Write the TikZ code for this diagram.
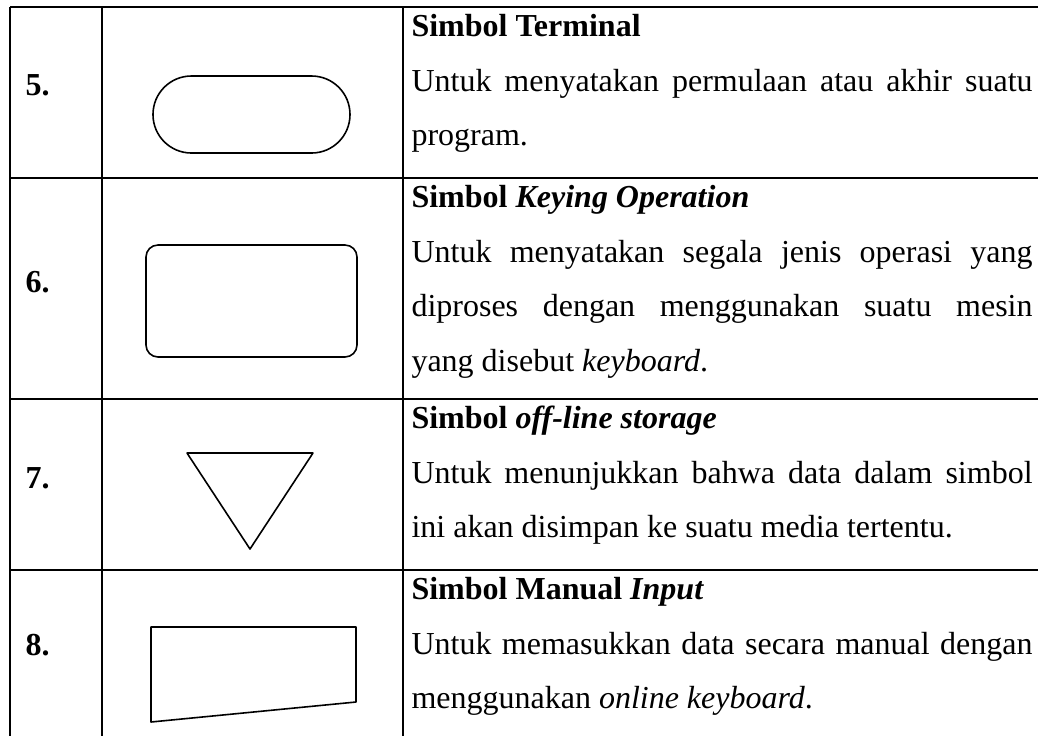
\documentclass[tikz,border=0pt]{standalone}
\usepackage{fontspec}
\setmainfont{Liberation Serif}
\usetikzlibrary{calc,positioning}

\newlength{\colw}
\setlength{\colw}{232.9pt}
\newcommand{\jline}[1]{\makebox[\colw][s]{#1}}

\begin{document}
\begin{tikzpicture}[
  x=0.375pt,y=-0.375pt,
  grid/.style={line width=0.7pt},
  symbol/.style={line width=0.6pt,line join=round},
  txt/.style={anchor=base west,inner sep=0pt,font=\fontsize{12}{14}\selectfont},
  num/.style={txt,font=\fontsize{12}{14}\selectfont\bfseries},
  ]
  \useasboundingbox (0,0) rectangle (1038,735);

  % table rules
  \foreach \y in {7,178,399,570}
    \draw[grid] (10,\y) -- (1038,\y);
  \foreach \x in {10,102,403}
    \draw[grid] (\x,7) -- (\x,740);

  % numbers
  \node[num] (num_5) at (25,95) {5.};
  \node[num] (num_6) at (25,292) {6.};
  \node[num] (num_7) at (25,488) {7.};
  \node[num] (num_8) at (25,655) {8.};

  % symbols
  \draw[symbol,rounded corners=14.4pt] (153,76) rectangle (350,153);
  \draw[symbol,rounded corners=4.5pt] (146,245) rectangle (357,357);
  \draw[symbol] (187,453) -- (313,453) -- (250,549) -- cycle;
  \draw[symbol] (151,627) -- (356,627) -- (356,702) -- (151,722) -- cycle;

  % row 5
  \node[txt] (txt_5a) at (411,36.5) {\textbf{Simbol Terminal}};
  \node[txt] (txt_5b) at (411,91) {\jline{Untuk menyatakan permulaan atau akhir suatu}};
  \node[txt] (txt_5c) at (411,145.5) {program.};

  % row 6
  \node[txt] (txt_6a) at (411,207.5) {\textbf{Simbol \textit{Keying Operation}}};
  \node[txt] (txt_6b) at (411,262) {\jline{Untuk menyatakan segala jenis operasi yang}};
  \node[txt] (txt_6c) at (411,316.5) {\jline{diproses dengan menggunakan suatu mesin}};
  \node[txt] (txt_6d) at (411,371) {yang disebut \textit{keyboard}.};

  % row 7
  \node[txt] (txt_7a) at (411,428.5) {\textbf{Simbol \textit{off-line storage}}};
  \node[txt] (txt_7b) at (411,483) {\jline{Untuk menunjukkan bahwa data dalam simbol}};
  \node[txt] (txt_7c) at (411,537.5) {ini akan disimpan ke suatu media tertentu.};

  % row 8
  \node[txt] (txt_8a) at (411,599.5) {\textbf{Simbol Manual \textit{Input}}};
  \node[txt] (txt_8b) at (411,654) {\jline{Untuk memasukkan data secara manual dengan}};
  \node[txt] (txt_8c) at (411,708.5) {menggunakan \textit{online keyboard}.};
\end{tikzpicture}
\end{document}
